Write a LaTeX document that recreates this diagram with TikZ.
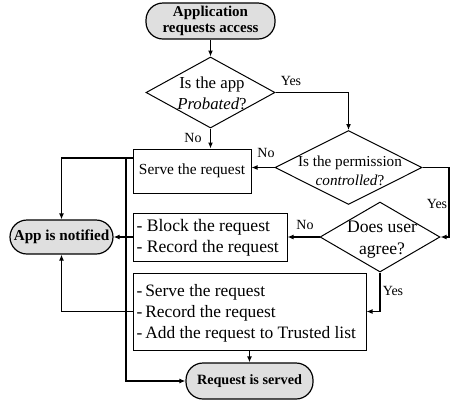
\documentclass[tikz,border=0pt]{standalone}
\usepackage{fontspec}
\setmainfont{Liberation Serif}
\usetikzlibrary{shapes.geometric,arrows.meta}
\begin{document}
\begin{tikzpicture}[x=1pt,y=-1pt,
  line width=1.2pt,
  arr/.style={-{Latex[length=6pt,width=5pt]}},
  pill/.style={draw,fill=gray!25,rounded corners=17pt,inner sep=0pt,font=\bfseries\fontsize{15}{17}\selectfont,align=center},
  boxnode/.style={draw,inner sep=0pt,line width=1pt},
  dia/.style={draw,diamond,inner sep=0pt,line width=1pt},
  txt/.style={align=center,inner sep=0pt,font=\fontsize{15.4}{19}\selectfont},
  lbl/.style={inner sep=0pt,font=\fontsize{14}{15}\selectfont}]
\useasboundingbox (0,0) rectangle (455,400);
% nodes
\node[pill,minimum width=129pt,minimum height=36pt] (start) at (210.5,21) {Application\\[-1pt]requests access};
\node[dia,minimum width=129pt,minimum height=71pt] (d1) at (210.5,92.5) {};
\node[txt,font=\fontsize{16.8}{21}\selectfont] (d1t) at (212,93) {Is the app\\\textit{Probated}?};
\node[dia,minimum width=147pt,minimum height=74pt] (d2) at (348.5,167.5) {};
\node[txt,font=\fontsize{15.2}{19}\selectfont] (d2t) at (350,171) {Is the permission\\\textit{controlled}?};
\node[dia,minimum width=120pt,minimum height=70pt] (d3) at (380,237) {};
\node[txt,font=\fontsize{17.6}{22}\selectfont] (d3t) at (382,240) {Does user\\agree?};
\node[boxnode,minimum width=118pt,minimum height=44pt] (serve) at (192,171) {};
\node[txt] (servet) at (serve) {Serve the request};
\node[boxnode,minimum width=154pt,minimum height=48pt] (block) at (210,237) {};
\node[txt,align=left,anchor=west,font=\fontsize{17.6}{21}\selectfont] (blockt) at (136,238) {- Block the request\\- Record the request};
\node[boxnode,minimum width=233pt,minimum height=77pt] (trusted) at (249.5,311.5) {};
\node[txt,align=left,anchor=west,font=\fontsize{17.4}{21}\selectfont] (trustedt) at (136,313) {-\,Serve the request\\-\,Record the request\\-\,Add the request to Trusted list};
\node[pill,minimum width=103pt,minimum height=34pt,font=\bfseries\fontsize{15.2}{17}\selectfont] (app) at (61.5,237) {App is notified};
\node[pill,minimum width=127pt,minimum height=36pt,font=\bfseries\fontsize{14.2}{16}\selectfont] (served) at (249.5,381) {Request is served};
% coordinates
\coordinate (c1) at (449,167.5);
\coordinate (j1) at (126,158);
% connectors
\draw[arr] (start) -- (d1);
\draw[arr] (d1.east) -| (d2.north);
\draw[arr] (d1.south) -- (d1.south |- serve.north);
\draw[arr] (d2.west) -- (d2.west -| serve.east);
\draw[arr] (d2.east) -- (c1) |- (d3.east);
\draw[arr] (d3.west) -- (d3.west -| block.east);
\draw[arr] (block.west) -- (block.west -| app.east);
\draw (serve.west |- j1) -- (j1);
\draw[arr] (j1) -| (app.north);
\draw[arr] (j1) |- (served.west);
\draw[arr] (d3.south) |- (trusted.east);
\draw[arr] (trusted.west) -| (app.south);
\draw[arr] (trusted.south) -- (served.north);
% labels
\node[lbl] (l1) at (291,81) {Yes};
\node[lbl] (l2) at (193,138) {No};
\node[lbl] (l3) at (266,153) {No};
\node[lbl] (l4) at (437,204) {Yes};
\node[lbl] (l5) at (305,225) {No};
\node[lbl] (l6) at (393,291) {Yes};
\end{tikzpicture}
\end{document}
